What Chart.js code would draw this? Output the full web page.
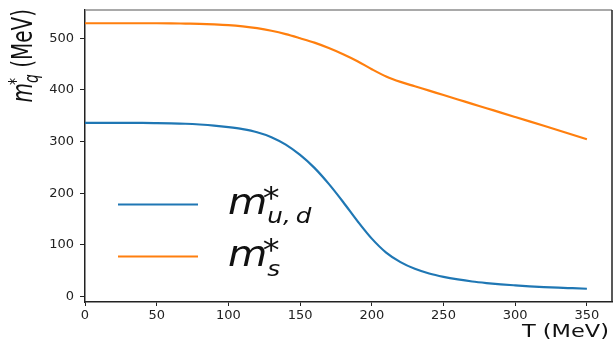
<!DOCTYPE html>
<html>
<head>
<meta charset="utf-8">
<script src="https://cdn.jsdelivr.net/npm/chart.js@4.4.1/dist/chart.umd.min.js"></script>
<style>
  html, body { margin: 0; padding: 0; background: #fff; }
  canvas { display: block; }
</style>
</head>
<body>
<canvas id="massChart" width="613" height="339"></canvas>
<script>
// temperature grid (MeV) and effective quark masses
const temps = [0, 10, 20, 30, 40, 50, 60, 70, 80, 90, 100, 110, 120, 130, 140, 150, 160, 170,
               180, 190, 200, 210, 220, 230, 240, 250, 260, 270, 280, 290, 300, 310, 320, 330, 340, 350];
const massUD = [336, 336, 336, 336, 336, 335.7, 335.2, 334.4, 333, 331, 328, 324, 318, 308.5, 294, 274, 249, 218,
                183, 146, 112, 85, 66.5, 53.5, 44.5, 38, 33, 29, 26, 23.5, 21.5, 19.7, 18.2, 17, 16, 15];
const massS = [529, 529, 529, 529, 529, 529, 528.8, 528.4, 528, 527, 525.5, 523, 519.5, 514.5, 508, 500, 491.5, 481,
               469, 455.5, 440, 426, 415.5, 407, 398.5, 390, 381.5, 373, 364.5, 356, 347.5, 339, 330.5, 322, 313, 304.5];
const xTicks = [0, 50, 100, 150, 200, 250, 300, 350];
const yTicks = [0, 100, 200, 300, 400, 500];
const seriesNames = ['m*u,d', 'm*s'];

const FONT = '"DejaVu Sans", sans-serif';

function points(ys) { return temps.map((t, i) => ({ x: t, y: ys[i] })); }

// little mathtext-ish writer: m, superscript *, subscript
function richWidth(ctx, parts) {
  let w = 0;
  parts.forEach(p => {
    ctx.font = (p.it ? 'italic ' : '') + p.size + 'px ' + FONT;
    if (!p.hold) w += ctx.measureText(p.t).width + (p.dx || 0);
  });
  return w;
}
function drawRich(ctx, parts) {
  let cx = 0;
  parts.forEach(p => {
    ctx.font = (p.it ? 'italic ' : '') + p.size + 'px ' + FONT;
    ctx.fillText(p.t, cx + (p.dx || 0), p.dy || 0);
    if (!p.hold) cx += ctx.measureText(p.t).width + (p.dx || 0);
  });
}

const legendText = [
  [{ t: 'm', size: 36, it: true }, { t: '*', size: 30, dx: -4, dy: -6, hold: true }, { t: 'u,\u2009d', size: 22, it: true, dy: 9 }],
  [{ t: 'm', size: 36, it: true }, { t: '*', size: 30, dx: -4, dy: -6, hold: true }, { t: 's', size: 22, it: true, dy: 10 }]
];
const yTitle = [{ t: 'm', size: 20, it: true }, { t: '*', size: 14, dx: -2, dy: -7.5, hold: true },
                { t: 'q', size: 14, it: true, dy: 4 }, { t: ' (MeV)', size: 20 }];
const xTitle = [{ t: 'T (MeV)', size: 18 }];

const decor = {
  id: 'decor',
  afterDraw(chart) {
    const ctx = chart.ctx, a = chart.chartArea;
    ctx.save();
    // top + right spines
    ctx.lineWidth = 1.5;
    ctx.strokeStyle = '#8c8c8c';
    ctx.beginPath(); ctx.moveTo(a.left, a.top); ctx.lineTo(a.right, a.top); ctx.stroke();
    ctx.strokeStyle = '#222';
    ctx.beginPath(); ctx.moveTo(a.right, a.top); ctx.lineTo(a.right, a.bottom); ctx.stroke();

    ctx.fillStyle = '#111';
    ctx.textBaseline = 'alphabetic';
    ctx.textAlign = 'left';

    // legend
    chart.data.datasets.forEach((ds, i) => {
      const ly = 204.5 + i * 52;
      ctx.strokeStyle = ds.borderColor;
      ctx.lineWidth = 2.2;
      ctx.beginPath(); ctx.moveTo(118, ly); ctx.lineTo(198, ly); ctx.stroke();
      ctx.save();
      ctx.translate(228, ly + 9);
      ctx.scale(1.12, 1);
      drawRich(ctx, legendText[i]);
      ctx.restore();
    });

    // x title, right aligned
    ctx.save();
    const xw = richWidth(ctx, xTitle) * 1.25;
    ctx.translate(a.right - 3 - xw, 337);
    ctx.scale(1.25, 1);
    drawRich(ctx, xTitle);
    ctx.restore();

    // y title, rotated, ending at the top of the axes
    ctx.save();
    const yw = richWidth(ctx, yTitle);
    ctx.translate(32, a.top - 1 + yw);
    ctx.rotate(-Math.PI / 2);
    ctx.scale(1, 1.4);
    drawRich(ctx, yTitle);
    ctx.restore();

    ctx.restore();
  }
};

const tickFont = { family: 'DejaVu Sans', size: 13 };

new Chart(document.getElementById('massChart'), {
  type: 'line',
  data: {
    datasets: [
      { label: seriesNames[0], data: points(massUD), borderColor: '#1f77b4', borderWidth: 2.2,
        pointRadius: 0, cubicInterpolationMode: 'monotone', fill: false },
      { label: seriesNames[1], data: points(massS), borderColor: '#ff7f0e', borderWidth: 2.2,
        pointRadius: 0, cubicInterpolationMode: 'monotone', fill: false }
    ]
  },
  options: {
    responsive: false,
    animation: false,
    devicePixelRatio: 1,
    layout: { padding: { top: 10, right: 1, left: 0, bottom: 0 } },
    plugins: { legend: { display: false }, tooltip: { enabled: false } },
    scales: {
      x: {
        type: 'linear', min: 0, max: 367.5,
        afterBuildTicks: s => { s.ticks = xTicks.map(v => ({ value: v })); },
        afterFit: s => { s.height = 37; s.paddingLeft = 0; s.paddingRight = 0; },
        grid: { drawOnChartArea: false, drawTicks: true, tickLength: 4, color: '#222' },
        border: { color: '#222', width: 1.5 },
        ticks: { padding: 2, color: '#222', font: tickFont, maxRotation: 0, autoSkip: false }
      },
      y: {
        type: 'linear', min: -10.7, max: 554.7,
        afterBuildTicks: s => { s.ticks = yTicks.map(v => ({ value: v })); },
        afterFit: s => { s.width = 85; s.paddingTop = 0; s.paddingBottom = 0; },
        grid: { drawOnChartArea: false, drawTicks: true, tickLength: 5, color: '#222' },
        border: { color: '#222', width: 1.5 },
        ticks: { padding: 6, color: '#222', font: tickFont, autoSkip: false }
      }
    }
  },
  plugins: [decor]
});
</script>
</body>
</html>
